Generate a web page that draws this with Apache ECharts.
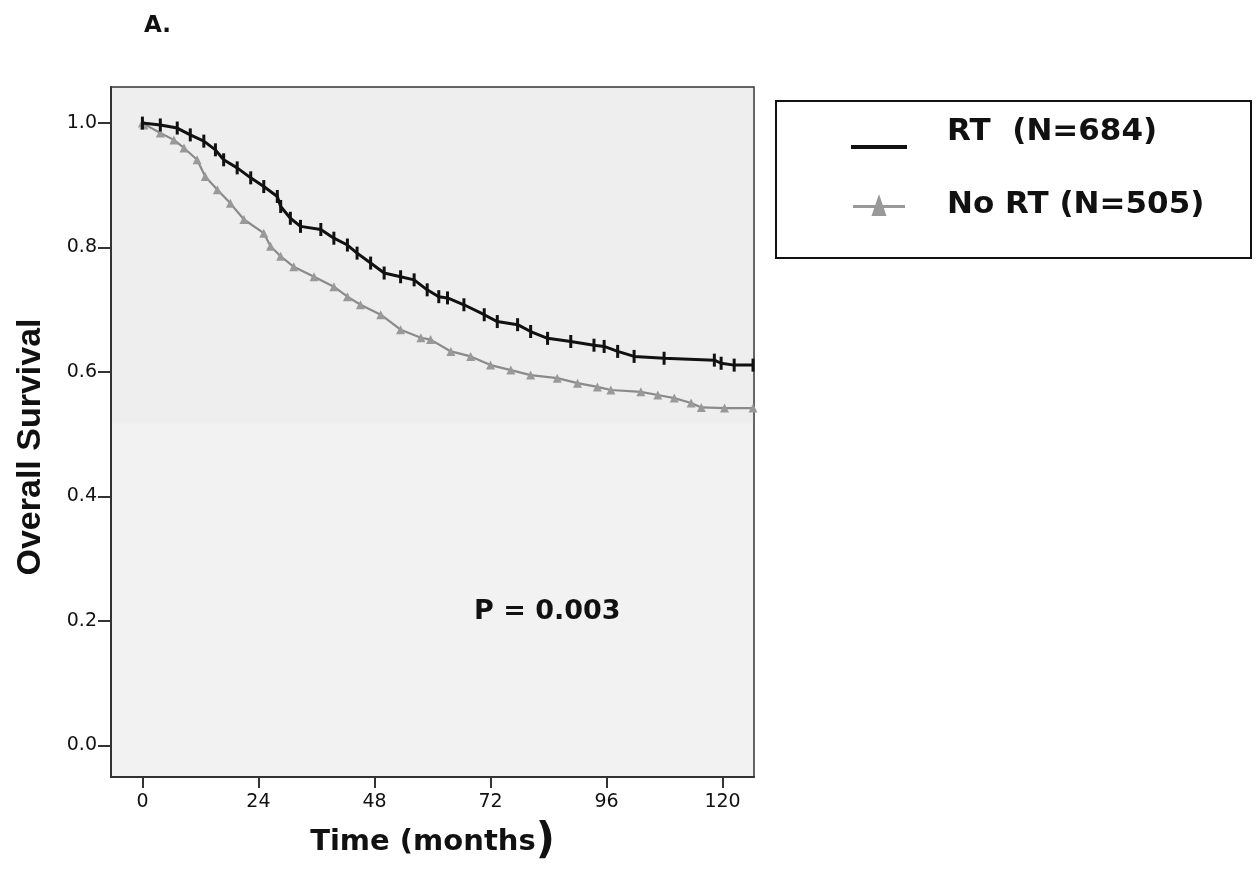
<!DOCTYPE html>
<html>
<head>
<meta charset="utf-8">
<script src="https://cdn.jsdelivr.net/npm/echarts@6/dist/echarts.min.js"></script>
<style>
html,body{margin:0;padding:0;background:#fff;}
#c{width:1256px;height:882px;}
</style>
</head>
<body>
<div id="c"></div>
<script>
// ---- data ----
const rtTime = [0, 3.7, 7.2, 9.9, 12.7, 15.1, 16.8, 19.6, 22.4, 25.1, 27.9, 28.6, 30.6, 32.7, 36.9, 39.6, 42.4, 44.4, 47.2, 50.0, 53.4, 56.2, 58.9, 61.3, 63.1, 66.5, 70.7, 73.4, 77.6, 80.3, 83.8, 88.6, 93.4, 95.5, 98.3, 101.7, 107.9, 118.3, 119.7, 122.4, 126.3];
const rtSurv = [1.0, 0.997, 0.992, 0.981, 0.971, 0.957, 0.941, 0.928, 0.912, 0.898, 0.882, 0.866, 0.847, 0.834, 0.829, 0.815, 0.804, 0.791, 0.775, 0.759, 0.753, 0.748, 0.732, 0.721, 0.719, 0.708, 0.692, 0.681, 0.676, 0.665, 0.654, 0.649, 0.643, 0.641, 0.633, 0.625, 0.622, 0.619, 0.614, 0.611, 0.611];

const noRtTime = [0, 0.3, 3.7, 6.5, 8.6, 11.3, 13.0, 15.5, 18.2, 21.0, 25.1, 26.5, 28.6, 31.3, 35.5, 39.6, 42.4, 45.1, 49.3, 53.4, 57.6, 59.6, 63.8, 67.9, 72.0, 76.2, 80.3, 85.8, 90.0, 94.1, 96.9, 103.1, 106.6, 110.0, 113.5, 115.6, 120.4, 126.3];
const noRtSurv = [1.0, 0.997, 0.984, 0.973, 0.960, 0.941, 0.914, 0.893, 0.871, 0.845, 0.823, 0.802, 0.786, 0.769, 0.753, 0.737, 0.721, 0.708, 0.692, 0.668, 0.655, 0.652, 0.633, 0.625, 0.611, 0.603, 0.595, 0.590, 0.582, 0.576, 0.571, 0.568, 0.563, 0.558, 0.550, 0.543, 0.542, 0.542];

const xTicks = [0, 24, 48, 72, 96, 120];
const yTicks = [0, 0.2, 0.4, 0.6, 0.8, 1.0];
const seriesNames = ['RT  (N=684)', 'No RT (N=505)'];
const pText = 'P = 0.003';
const panelLabel = 'A.';
// --------------------------------------

const zip = (a, b) => a.map((v, i) => [v, b[i]]);
const ARIAL = '"Liberation Sans", Arial, sans-serif';
const WIDE = '"DejaVu Sans", "Liberation Sans", Arial, sans-serif';
const AX = '#333333';

const chart = echarts.init(document.getElementById('c'), null, {renderer: 'canvas'});

chart.setOption({
  animation: false,
  backgroundColor: '#ffffff',
  textStyle: {fontFamily: WIDE},
  grid: {
    left: 111, right: 502, top: 87, bottom: 105,
    show: true, backgroundColor: '#f2f2f2', borderColor: AX, borderWidth: 1.5,
    containLabel: false, outerBoundsMode: 'none'
  },
  xAxis: {
    type: 'value', min: -6.5, max: 126.5, z: 5,
    splitLine: {show: false},
    axisLine: {show: true, onZero: false, lineStyle: {color: AX, width: 2}},
    axisTick: {show: true, length: 11, customValues: xTicks, lineStyle: {color: AX, width: 2}},
    axisLabel: {customValues: xTicks, color: '#111', fontSize: 19, margin: 16, fontFamily: WIDE},
    name: '{a|Time (months}{b|)}',
    nameLocation: 'middle', nameGap: 44,
    nameTextStyle: {
      rich: {
        a: {fontSize: 29, fontWeight: 'bold', color: '#111', fontFamily: WIDE},
        b: {fontSize: 42, fontWeight: 'bold', color: '#111', fontFamily: WIDE}
      }
    }
  },
  yAxis: {
    type: 'value', min: -0.051, max: 1.058, z: 5,
    splitLine: {show: false},
    axisLine: {show: true, onZero: false, lineStyle: {color: AX, width: 2}},
    axisTick: {show: true, length: 13, customValues: yTicks, lineStyle: {color: AX, width: 2}},
    axisLabel: {customValues: yTicks, color: '#111', fontSize: 19, margin: 14, fontFamily: WIDE,
      formatter: v => v.toFixed(1)},
    name: 'Overall Survival',
    nameLocation: 'middle', nameGap: 63, nameRotate: 90,
    nameTextStyle: {fontSize: 34, fontWeight: 'bold', color: '#111', fontFamily: ARIAL,
      padding: [0, 30, 0, 0]}
  },
  legend: [
    {
      orient: 'vertical', left: 851, top: 115, padding: 0,
      itemWidth: 56, itemHeight: 34, selectedMode: false,
      data: [{name: seriesNames[0], icon: 'path://M28,0 L28.2,0 L28.2,0.2 Z M0,30 L56,30 L56,34 L0,34 Z'}],
      textStyle: {fontSize: 31, lineHeight: 32, fontWeight: 'bold', color: '#111', fontFamily: WIDE,
        padding: [0, 0, 0, 35]}
    },
    {
      orient: 'vertical', left: 853, top: 189, padding: 0,
      itemWidth: 52, itemHeight: 22, selectedMode: false,
      data: [{name: seriesNames[1], icon: 'path://M0,11 L52,11 L52,14 L0,14 Z M26,0 L33.5,22 L18.5,22 Z'}],
      textStyle: {fontSize: 31, lineHeight: 32, fontWeight: 'bold', color: '#111', fontFamily: WIDE,
        padding: [0, 0, 0, 37]}
    }
  ],
  graphic: [
    {type: 'rect', left: 775, top: 100, z: -1,
      shape: {width: 475, height: 157}, style: {fill: '#fff', stroke: '#111', lineWidth: 2}},
    {type: 'text', left: 144, top: 15,
      style: {text: panelLabel, font: 'bold 23px ' + WIDE, fill: '#111'}},
    {type: 'text', left: 474, top: 598,
      style: {text: pText, font: 'bold 27px ' + WIDE, fill: '#111'}}
  ],
  series: [
    {
      name: seriesNames[0], type: 'line',
      data: zip(rtTime, rtSurv),
      showSymbol: true, symbol: 'rect', symbolSize: [3, 13],
      itemStyle: {color: '#111'},
      lineStyle: {color: '#111', width: 3},
      z: 3,
      markArea: {
        silent: true,
        itemStyle: {color: '#eeeeee'},
        data: [[{xAxis: -6.3, yAxis: 0.517}, {xAxis: 126.3, yAxis: 1.056}]]
      }
    },
    {
      name: seriesNames[1], type: 'line',
      data: zip(noRtTime, noRtSurv),
      showSymbol: true, symbol: 'triangle', symbolSize: 9,
      itemStyle: {color: '#999999'},
      lineStyle: {color: '#8a8a8a', width: 2.2},
      z: 2
    }
  ]
});
</script>
</body>
</html>
